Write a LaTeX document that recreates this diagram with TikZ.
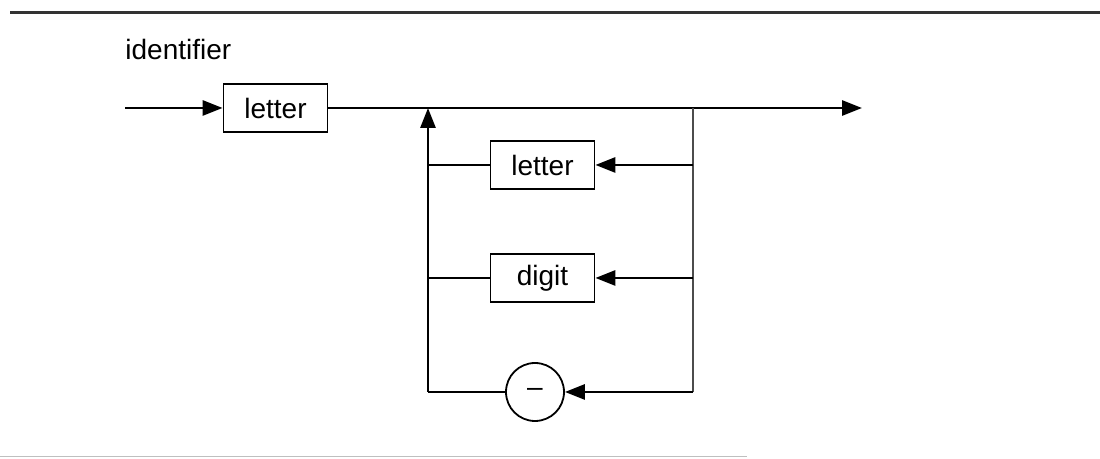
\documentclass[tikz,border=0pt]{standalone}
\usepackage{fontspec}
\setmainfont{Liberation Sans}
\usetikzlibrary{arrows.meta,positioning}

\begin{document}
\begin{tikzpicture}[x=0.5pt,y=-0.5pt,line width=1.4pt,
  tip/.style={-{Triangle[length=10pt,width=7.5pt]}},
  term/.style={draw,line width=0.9pt,minimum width=52pt,minimum height=24pt,inner sep=0pt,font=\fontsize{14}{16}\selectfont},
  lit/.style={circle,draw,line width=0.9pt,minimum size=29pt,inner sep=0pt,font=\fontsize{14}{16}\selectfont},
  rail/.style={line width=0.7pt,black!70}]
\useasboundingbox (0,0) rectangle (1100,459);
\draw[line width=1.5pt,black!80] (10,13) -- (1100,13);
\draw[line width=0.5pt,black!25] (0,457) -- (747,457);
\node[anchor=base west,inner sep=0pt,font=\fontsize{14}{16}\selectfont] (title) at (124,60) {identifier};
\coordinate (in) at (125,108);
\node[term] (first) at (275.5,108) {letter};
\coordinate (join) at (428,108);
\coordinate (split) at (693,108);
\coordinate (out) at (862,108);
\node[term] (rep1) at (542.5,165) {letter};
\node[term] (rep2) at (542.5,278) {digit};
\node[lit] (dash) at (535,392) {\textendash};
\coordinate (bl) at (428,392);
\coordinate (br) at (693,392);
% main line
\draw[tip] (in) -- (first);
\draw[tip] (first) -- (out);
% repeat loop
\draw[rail] (split) -- (br);
\draw[tip] (br) -- (dash);
\draw (dash) -- (bl);
\draw[tip] (bl) -- (join);
\foreach \n in {rep1,rep2} {
  \draw[tip] (split |- \n) -- (\n);
  \draw (\n) -- (join |- \n);
}
\end{tikzpicture}
\end{document}
